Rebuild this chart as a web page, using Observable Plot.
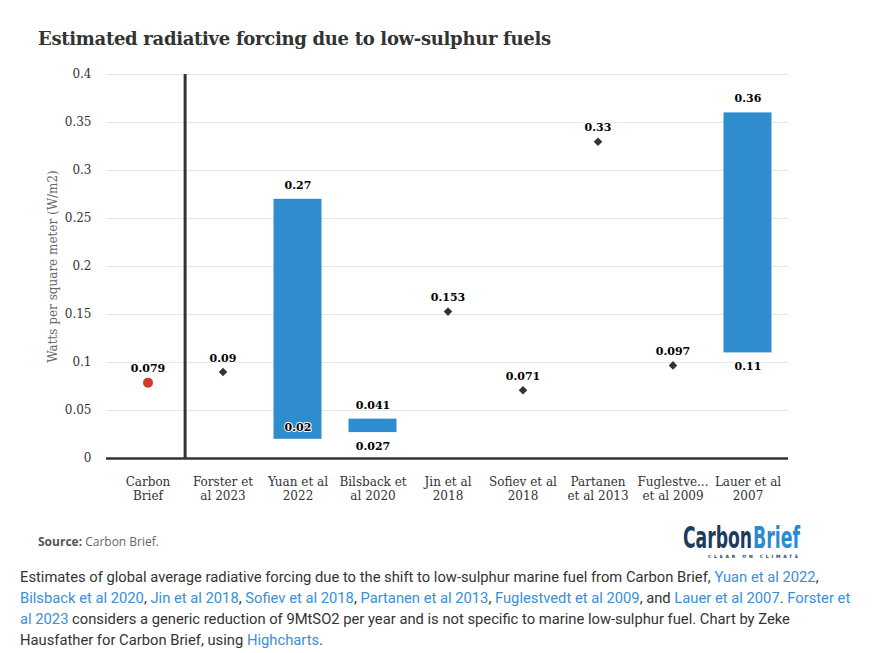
<!DOCTYPE html>
<html>
<head>
<meta charset="utf-8">
<script src="https://cdn.jsdelivr.net/npm/d3@7"></script>
<script src="https://cdn.jsdelivr.net/npm/@observablehq/plot@0.6"></script>
<style>
  html, body { margin: 0; padding: 0; background: #fff; }
  body { width: 873px; height: 653px; position: relative; overflow: hidden; font-family: "DejaVu Serif", serif; }
  #title { position: absolute; left: 38px; top: 28px; font-family: "DejaVu Serif", serif; font-weight: bold; font-size: 18px; color: #333; letter-spacing: -0.3px; }
  #chart { position: absolute; left: 0; top: 60px; }
  #source { position: absolute; left: 38px; top: 533px; font-family: "Open Sans", sans-serif; font-size: 12px; color: #666; }
  #source b { color: #555; }
  #logo { position: absolute; left: 680px; top: 518px; }
  #caption { position: absolute; left: 20px; top: 567px; width: 860px; white-space: nowrap; font-family: "Roboto", sans-serif; font-size: 14.75px; line-height: 21px; color: #333; }
  #caption a { color: #3a8fd6; text-decoration: none; }
  g[aria-label="y-axis label"] text { fill: #666; }
</style>
</head>
<body>
<div id="title">Estimated radiative forcing due to low-sulphur fuels</div>
<div id="chart"></div>
<div id="source"><b>Source:</b> Carbon Brief.</div>
<svg id="logo" width="130" height="46" viewBox="0 0 130 46">
  <g transform="translate(0,30) scale(1,1.58)" font-family="DejaVu Sans Condensed" font-weight="bold" font-size="18.5">
    <text x="3" y="0" fill="#1c3b5e" textLength="69" lengthAdjust="spacingAndGlyphs">Carbon</text>
    <text x="73" y="0" fill="#2b8bd1" textLength="47" lengthAdjust="spacingAndGlyphs">Brief</text>
  </g>
  <text x="28" y="40" font-family="DejaVu Sans" font-weight="bold" font-size="4.5" fill="#1c3b5e" textLength="90" lengthAdjust="spacing">CLEAR ON CLIMATE</text>
</svg>
<div id="caption">Estimates of global average radiative forcing due to the shift to low-sulphur marine fuel from Carbon Brief, <a>Yuan et al 2022</a>,<br><a>Bilsback et al 2020</a>, <a>Jin et al 2018</a>, <a>Sofiev et al 2018</a>, <a>Partanen et al 2013</a>, <a>Fuglestvedt et al 2009</a>, and <a>Lauer et al 2007</a>. <a>Forster et</a><br><a>al 2023</a> considers a generic reduction of 9MtSO2 per year and is not specific to marine low-sulphur fuel. Chart by Zeke<br>Hausfather for Carbon Brief, using <a>Highcharts</a>.</div>
<script>
// ---- data ----
const categories = ["Carbon Brief", "Forster et al 2023", "Yuan et al 2022", "Bilsback et al 2020", "Jin et al 2018", "Sofiev et al 2018", "Partanen et al 2013", "Fuglestvedt et al 2009", "Lauer et al 2007"];
const tickLabels = ["Carbon\nBrief", "Forster et\nal 2023", "Yuan et al\n2022", "Bilsback et\nal 2020", "Jin et al\n2018", "Sofiev et al\n2018", "Partanen\net al 2013", "Fuglestve...\net al 2009", "Lauer et al\n2007"];
const rangeStudies = ["Yuan et al 2022", "Bilsback et al 2020", "Lauer et al 2007"];
const rangeLow = [0.02, 0.027, 0.11];
const rangeHigh = [0.27, 0.041, 0.36];
const pointStudies = ["Forster et al 2023", "Jin et al 2018", "Sofiev et al 2018", "Partanen et al 2013", "Fuglestvedt et al 2009"];
const pointValues = [0.09, 0.153, 0.071, 0.33, 0.097];
const cbStudy = ["Carbon Brief"];
const cbValue = [0.079];
const yTicks = [0, 0.05, 0.1, 0.15, 0.2, 0.25, 0.3, 0.35, 0.4];

const ranges = rangeStudies.map((s, i) => ({study: s, low: rangeLow[i], high: rangeHigh[i]}));
const points = pointStudies.map((s, i) => ({study: s, value: pointValues[i]}));
const cb = cbStudy.map((s, i) => ({study: s, value: cbValue[i]}));

const W = 873, H = 460, mL = 106, mR = 85, mT = 14, mB = 62;
const step = (W - mL - mR) / categories.length;
const labelMap = new Map(categories.map((c, i) => [c, tickLabels[i]]));
const fmt = d => String(+d.toFixed(3));
const lblStyle = {fontWeight: "bold", fontSize: 11, fill: "#000", stroke: "white", strokeWidth: 2, paintOrder: "stroke", fontFamily: "DejaVu Serif"};
// low label sits inside the bar when it would collide with the baseline
const tooLow = d => d.low < 0.025;

const plot = Plot.plot({
  width: W, height: H,
  marginLeft: mL, marginRight: mR, marginTop: mT, marginBottom: mB,
  style: {fontFamily: "DejaVu Serif", fontSize: "11.5px", color: "#333", background: "white"},
  x: {type: "band", domain: categories, padding: 0},
  y: {domain: [0, 0.4]},
  marks: [
    Plot.gridY(yTicks, {stroke: "#e6e6e6", strokeOpacity: 1}),
    Plot.axisY(yTicks, {tickSize: 0, tickPadding: 15, tickFormat: d => String(d), fontSize: 12, label: "Watts per square meter (W/m2)", labelAnchor: "center", labelArrow: "none", labelOffset: 58}),
    Plot.axisX({tickSize: 0, tickPadding: 17, tickFormat: d => labelMap.get(d), fontSize: 12, label: null, lineHeight: 1.2}),
    Plot.ruleX(["Forster et al 2023"], {dx: -step / 2, y1: 0, y2: 0.4, stroke: "#333", strokeWidth: 3}),
    Plot.barY(ranges, {x: "study", y1: "low", y2: "high", fill: "#2e8ccf", insetLeft: 13.5, insetRight: 13.5}),
    Plot.ruleY([0], {stroke: "#333", strokeWidth: 2.5}),
    Plot.dot(points, {x: "study", y: "value", symbol: "square", rotate: 45, r: 3.4, fill: "#333", stroke: "none"}),
    Plot.dot(cb, {x: "study", y: "value", r: 5, fill: "#d03b2a", stroke: "none"}),
    Plot.text(points, {x: "study", y: "value", text: d => fmt(d.value), dy: -14, ...lblStyle}),
    Plot.text(cb, {x: "study", y: "value", text: d => fmt(d.value), dy: -14, ...lblStyle}),
    Plot.text(ranges, {x: "study", y: "high", text: d => fmt(d.high), dy: -14, ...lblStyle}),
    Plot.text(ranges.filter(d => !tooLow(d)), {x: "study", y: "low", text: d => fmt(d.low), dy: 14, ...lblStyle}),
    Plot.text(ranges.filter(tooLow), {x: "study", y: "low", text: d => fmt(d.low), dy: -12, ...lblStyle})
  ]
});
document.getElementById("chart").appendChild(plot);
</script>
</body>
</html>
